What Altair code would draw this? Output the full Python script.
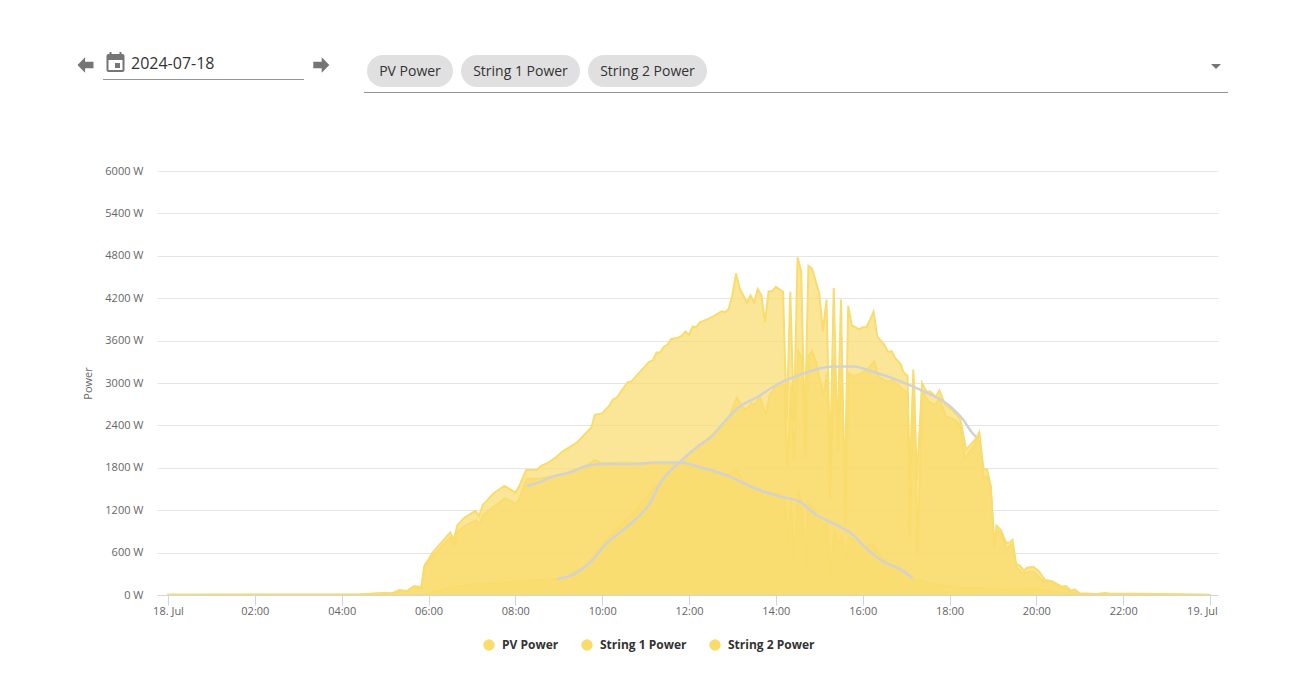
import altair as alt
import pandas as pd

pv_time = "00:00 04:25 05:00 05:10 05:20 05:30 05:40 05:50 05:55 06:00 06:05 06:30 06:35 06:40 06:50 07:05 07:10 07:15 07:30 07:45 08:00 08:05 08:15 08:30 08:35 08:45 08:55 09:05 09:25 09:45 09:50 10:00 10:05 10:10 10:15 10:20 10:35 10:40 11:05 11:10 11:15 11:20 11:25 11:30 11:35 11:45 11:50 11:55 12:00 12:05 12:10 12:15 12:25 12:35 12:45 12:50 12:55 13:00 13:05 13:10 13:20 13:25 13:30 13:35 13:40 13:45 13:50 13:55 14:00 14:10 14:15 14:20 14:25 14:30 14:35 14:40 14:45 14:50 15:00 15:05 15:10 15:15 15:20 15:25 15:30 15:35 15:40 15:45 15:50 15:55 16:00 16:05 16:10 16:15 16:20 16:30 16:35 16:40 16:45 16:53 16:56 17:02 17:05 17:10 17:15 17:22 17:28 17:33 17:41 17:46 17:54 18:01 18:08 18:15 18:23 18:31 18:37 18:41 18:47 18:52 18:57 19:02 19:05 19:11 19:18 19:23 19:27 19:32 19:37 19:43 19:47 19:56 20:04 20:12 20:21 20:35 20:41 20:48 20:53 21:00 21:23 21:35 21:42 22:20 24:00".split()
pv_watt = [3,10,30,25,70,55,125,110,430,500,595,885,780,990,1095,1190,1120,1275,1440,1545,1450,1535,1770,1770,1825,1870,1940,2030,2155,2370,2550,2570,2630,2680,2770,2790,3010,3020,3300,3320,3430,3430,3510,3540,3620,3640,3670,3730,3680,3800,3790,3860,3900,3950,4015,4000,4050,4250,4550,4340,4140,4240,4140,4330,4240,3860,4300,4300,4360,4290,2460,4290,2440,4780,4580,2340,4660,4620,4270,3730,4180,1900,4345,2170,4180,1350,4090,3810,3790,3755,3790,3790,3890,4010,3660,3540,3440,3450,3350,3260,3160,3100,1630,3190,1630,3000,2880,2880,2810,2895,2690,2645,2575,2480,2055,2150,2220,2300,1780,1780,1535,685,980,920,740,740,780,440,415,345,385,400,330,212,198,118,127,61,80,24,14,28,18,18,3]

s1_time = "00:00 04:25 05:00 05:10 05:20 05:30 05:40 05:50 05:54 06:07 06:30 06:36 06:40 06:50 07:06 07:10 07:15 07:46 08:01 08:06 08:16 08:30 09:02 09:39 09:50 09:59 10:34 11:02 11:48 12:30 12:50 13:06 13:13 13:26 13:38 13:46 13:51 14:12 14:16 14:21 14:25 14:31 14:36 14:41 14:45 14:52 15:06 15:11 15:15 15:21 15:26 15:31 15:36 15:41 16:01 16:16 16:22 16:33 16:52 17:10 17:33 18:15 18:42 19:10 19:55 20:37 21:00 24:00".split()
s1_watt = [3,8,25,20,60,45,110,95,400,565,815,710,895,975,1060,990,1130,1370,1290,1370,1650,1640,1700,1830,1910,1865,1875,1855,1855,1750,1675,1770,1630,1535,1490,1320,1465,1395,735,1345,495,1490,1305,400,1305,1230,970,1050,210,920,735,825,495,825,685,710,595,470,355,235,165,95,100,70,95,30,10,0]

s2_time = "00:00 05:50 06:00 06:20 06:39 07:11 08:00 08:57 09:11 09:39 10:06 10:43 11:10 11:48 12:29 12:52 13:06 13:13 13:20 13:26 13:31 13:38 13:46 13:51 13:59 14:12 14:16 14:21 14:25 14:31 14:36 14:41 14:45 14:50 14:56 15:06 15:11 15:15 15:21 15:26 15:31 15:36 15:41 15:46 15:56 16:06 16:16 16:22 16:31 16:35 16:42 16:53 17:02 17:05 17:11 17:16 17:22 17:31 17:40 17:46 17:55 18:08 18:15 18:21 18:35 18:41 18:47 18:52 18:57 19:02 19:05 19:11 19:18 19:23 19:27 19:32 19:40 19:56 20:10 20:21 20:35 20:48 21:00 21:30 24:00".split()
s2_watt = [0,0,25,70,127,156,190,225,260,425,780,1160,1490,1890,2240,2435,2795,2670,2620,2715,2690,2810,2550,2810,2950,2975,1770,2975,1900,3450,3350,1940,3380,3455,3280,2810,3145,1345,3400,2010,3330,1000,3140,3100,3125,3190,3305,3095,3035,3020,3045,2930,2860,825,3045,545,2880,2740,2690,2785,2525,2480,2395,1935,2125,2290,1650,1675,1535,660,920,875,660,685,720,400,307,330,188,175,110,47,14,10,0]

ref1_time = "08:16 08:27 08:52 09:16 09:39 10:01 10:48 11:10 11:48 12:15 12:57 13:20 13:43 14:10 14:33 14:56 15:19 15:47 16:06 16:29 16:54 17:09".split()
ref1_watt = [1545,1575,1675,1735,1830,1855,1855,1875,1875,1810,1675,1560,1465,1385,1320,1135,1015,850,650,470,355,235]
ref2_time = "08:58 09:13 09:43 10:06 10:43 11:06 11:20 11:48 12:15 12:31 12:47 13:08 13:36 14:01 14:33 15:19 15:47 16:15 16:47 17:19 18:01 18:19 18:31 18:37".split()
ref2_watt = [230,260,460,730,1040,1300,1580,1890,2125,2240,2430,2650,2810,2975,3115,3235,3235,3155,3045,2905,2670,2480,2300,2235]

series_names = ["PV Power", "String 1 Power", "String 2 Power"]
y_ticks = [0, 600, 1200, 1800, 2400, 3000, 3600, 4200, 4800, 5400, 6000]
x_ticks = list(range(0, 25, 2))
chips = ["PV Power", "String 1 Power", "String 2 Power"]
date_text = "2024-07-18"

YELLOW = "#F9DC6C"
GREY = "#757575"


def hours(t):
    h, m = t.split(":")
    return int(h) + int(m) / 60


def table(name, ts, vs):
    return pd.DataFrame({"hour": [hours(t) for t in ts], "watt": vs, "series": name})


areas = pd.concat([
    table(series_names[0], pv_time, pv_watt),
    table(series_names[1], s1_time, s1_watt),
    table(series_names[2], s2_time, s2_watt),
])
refs = pd.concat([table("a", ref1_time, ref1_watt), table("b", ref2_time, ref2_watt)])

X0 = 157
Y0 = 171

x_scale = alt.Scale(domain=[-0.2534, 24.184], nice=False, zero=False)
y_scale = alt.Scale(domain=[0, 6000], nice=False)

x_axis = alt.Axis(
    values=x_ticks, title=None, grid=False, labelFont="Open Sans", labelFontSize=11, labelColor="#666666",
    labelExpr="datum.value==0?'18. Jul':datum.value==24?'':(datum.value<10?'0':'')+datum.value+':00'",
    labelOverlap=False, labelBound=False, labelFlush=False, labelPadding=0,
    tickColor="#ccd6eb", tickSize=10, domainColor="#ccd6eb", domainWidth=1,
)
y_axis = alt.Axis(
    values=y_ticks, title="Power", labelFont="Open Sans", labelFontSize=11, labelColor="#666666",
    labelExpr="datum.value+' W'", labelPadding=14, ticks=False, domain=False,
    gridColor="#e6e6e6", gridWidth=1, titleFont="Open Sans", titleFontSize=11, titleFontWeight="normal",
    titleColor="#666666", titlePadding=11,
)

area = alt.Chart(areas).mark_area(
    fillOpacity=0.7, strokeOpacity=1, stroke=YELLOW, strokeWidth=2, interpolate="linear", clip=True
).encode(
    x=alt.X("hour:Q", scale=x_scale, axis=x_axis),
    y=alt.Y("watt:Q", scale=y_scale, axis=y_axis, stack=None),
    color=alt.Color(
        "series:N",
        scale=alt.Scale(domain=series_names, range=[YELLOW, YELLOW, YELLOW]),
        legend=alt.Legend(
            orient="none", legendX=326, legendY=468, direction="horizontal", columns=3, title=None,
            symbolType="circle", symbolSize=130, symbolOpacity=1, symbolStrokeWidth=0, symbolFillColor=YELLOW,
            labelFont="Open Sans", labelFontSize=12, labelFontWeight="bold", labelColor="#333333",
            columnPadding=22, labelOffset=7,
        ),
    ),
    order=alt.Order("order:Q"),
).transform_calculate(order="indexof(%r, datum.series)" % series_names)

ref_lines = alt.Chart(refs).mark_line(color="#D2D2D2", strokeWidth=2.5, interpolate="monotone").encode(
    x=alt.X("hour:Q", scale=x_scale), y=alt.Y("watt:Q", scale=y_scale), detail="series:N"
)


def px(v):
    return alt.value(v - X0)


def py(v):
    return alt.value(v - Y0)


def one():
    return alt.Chart(pd.DataFrame({"k": [0]}))


def label(text, x, y, size=14, color="#333333", align="left", font="Open Sans", weight="normal"):
    return alt.Chart(pd.DataFrame({"t": [text]})).mark_text(
        align=align, baseline="middle", font=font, fontSize=size, color=color, fontWeight=weight, clip=False
    ).encode(text="t:N", x=px(x), y=py(y))


def box(x1, x2, y1, y2, color, radius=0):
    return one().mark_rect(color=color, cornerRadius=radius, clip=False).encode(x=px(x1), x2=px(x2), y=py(y1), y2=py(y2))


def hline(x1, x2, y, color="#949494"):
    return one().mark_rule(color=color, strokeWidth=1, clip=False).encode(x=px(x1), x2=px(x2), y=py(y))


def glyph(path, x, y, size):
    return one().mark_point(shape=path, filled=True, color=GREY, size=size, opacity=1, clip=False).encode(x=px(x), y=py(y))


ARROW_LEFT = "M-1,0L-0.05,-0.96L-0.05,-0.4L1,-0.4L1,0.4L-0.05,0.4L-0.05,0.96Z"
ARROW_RIGHT = "M1,0L0.05,-0.96L0.05,-0.4L-1,-0.4L-1,0.4L0.05,0.4L0.05,0.96Z"
CARET = "M-1,-0.5L1,-0.5L0,0.5Z"

chrome = [
    glyph(ARROW_LEFT, 85.5, 65, 256),
    glyph(ARROW_RIGHT, 321.3, 65, 256),
    # calendar icon
    box(106.5, 124.5, 54, 72, GREY, 2),
    box(108.5, 122.5, 60, 70, "#ffffff"),
    box(109.5, 111.5, 52, 56, GREY),
    box(119.5, 121.5, 52, 56, GREY),
    box(115, 120, 63, 68, GREY),
    label(date_text, 131, 64, size=16),
    hline(103, 304, 79.5),
    hline(364, 1228, 92.5),
    box(367, 453, 55, 87, "#e0e0e0", 16),
    box(461, 580, 55, 87, "#e0e0e0", 16),
    box(588, 707, 55, 87, "#e0e0e0", 16),
    label(chips[0], 410, 72, align="center"),
    label(chips[1], 520.5, 72, align="center"),
    label(chips[2], 647.5, 72, align="center"),
    glyph(CARET, 1216, 66.5, 100),
    label("19. Jul", 1202.5, 611.5, size=11, color="#666666", align="center"),
]

chart = alt.layer(area, ref_lines, *chrome).properties(
    width=1061,
    height=424,
    padding={"left": X0 - 8, "top": Y0 - 8, "right": 60, "bottom": 60},
    autosize=alt.AutoSizeParams(type="none"),
).configure_view(stroke=None).resolve_scale(x="shared", y="shared")

chart.save("out.html", embed_options={"renderer": "svg", "actions": False})
